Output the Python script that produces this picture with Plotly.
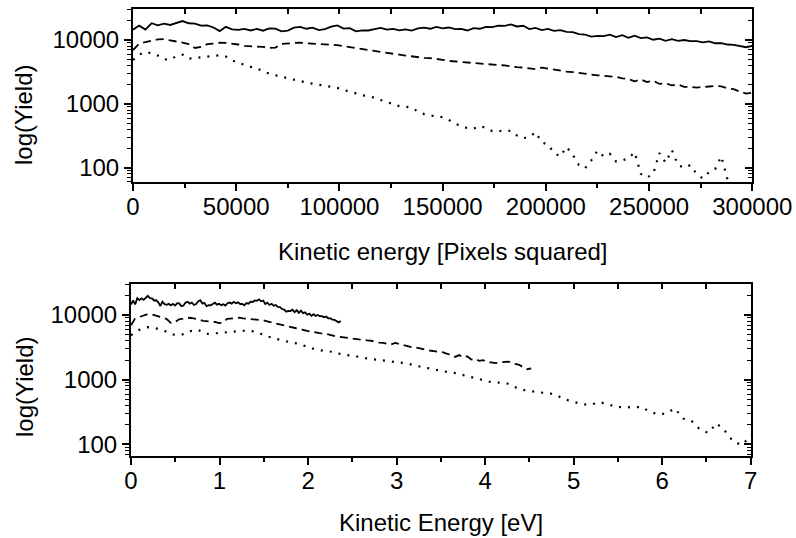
import numpy as np
import plotly.graph_objects as go

# Kinetic energy samples in pixels squared (one every 3000 px^2)
px2 = np.arange(0, 300001, 3000)

yield_solid = [
    14500, 16800, 14600, 18300, 17000, 18100, 17200, 18500, 19800, 18300,
    18100, 16800, 16900, 15700, 13800, 16100, 14700, 14400, 14900, 14100,
    14900, 14000, 15200, 15100, 13700, 14000, 15600, 16000, 15000, 15600,
    14300, 14800, 16200, 16900, 15100, 15300, 13700, 14200, 14100, 14800,
    15500, 14500, 14900, 14200, 14700, 14000, 15200, 15600, 15000, 16000,
    15200, 15700, 14800, 14900, 14100, 15300, 15000, 16100, 15900, 16800,
    16600, 17500, 16300, 16700, 14800, 15500, 14300, 14900, 13900, 14300,
    13400, 13300, 12400, 12100, 11300, 11600, 11500, 12100, 11100, 11900,
    10800, 11700, 10700, 11000, 10100, 10500, 9700, 10300, 9700, 10000,
    9600, 9600, 9200, 9500, 8900, 8900, 8500, 8400, 8000, 7700, 8100,
]

yield_dashed = [
    6950, 8800, 9300, 9800, 10200, 10300, 9900, 9600, 9100, 8600,
    7500, 7800, 8600, 8800, 9100, 9000, 8800, 8500, 8100, 8000,
    7900, 7800, 7500, 7600, 8700, 8900, 9100, 9100, 8900, 8800,
    8700, 8550, 8600, 8300, 8000, 7700, 7400, 7300, 7000, 6700,
    6500, 6300, 6150, 5900, 5700, 5500, 5400, 5250, 5200, 5100,
    4900, 4700, 4600, 4500, 4400, 4300, 4250, 4150, 4100, 4050,
    4000, 3850, 3750, 3700, 3600, 3500, 3700, 3550, 3400, 3300,
    3200, 3150, 3050, 2950, 2850, 2800, 2750, 2700, 2650, 2500,
    2450, 2250, 2400, 2200, 2300, 2050, 2100, 1950, 2000, 1850,
    1850, 1800, 1850, 1870, 1900, 1880, 1750, 1700, 1550, 1450, 1500,
]

yield_dotted = [
    4860, 5900, 6500, 6200, 5700, 5000, 4900, 5600, 5900, 5100,
    5200, 5400, 5500, 5650, 5750, 5500, 4800, 4400, 4060, 3800,
    3600, 3300, 2950, 2800, 2700, 2500, 2400, 2280, 2150, 2070,
    2030, 1950, 1860, 1780, 1650, 1570, 1460, 1370, 1300, 1250,
    1150, 1070, 1000, 920, 900, 870, 760, 690, 660, 630,
    620, 560, 490, 450, 415, 410, 450, 420, 375, 380,
    370, 380, 320, 290, 300, 360, 250, 230, 170, 150,
    212, 160, 110, 98, 130, 185, 150, 165, 125, 130,
    140, 175, 80, 70, 80, 170, 120, 190, 110, 100,
    110, 80, 68, 85, 95, 150, 65, 45, 40, 38, 35,
]

# Energy calibration of each series (eV per pixel squared)
cal_solid = 7.9e-6
cal_dashed = 1.507e-5
cal_dotted = 3.15e-5

x_px_ticks = [0, 50000, 100000, 150000, 200000, 250000, 300000]
x_px_labels = ["0", "50000", "100000", "150000", "200000", "250000", "300000"]
x_px_minor = [25000, 75000, 125000, 175000, 225000, 275000]
x_ev_ticks = [0, 1, 2, 3, 4, 5, 6, 7]
x_ev_labels = ["0", "1", "2", "3", "4", "5", "6", "7"]
x_ev_minor = [0.5, 1.5, 2.5, 3.5, 4.5, 5.5, 6.5]
y_ticks = [100, 1000, 10000]
y_labels = ["100", "1000", "10000"]
y_minor = [60, 70, 80, 90, 200, 300, 400, 500, 600, 700, 800, 900,
           2000, 3000, 4000, 5000, 6000, 7000, 8000, 9000, 20000, 30000]

W, H = 796, 538
FONT = "Liberation Sans, Arial, Helvetica, sans-serif"
tick_font = dict(family=FONT, size=24, color="black")

styles = {
    "solid": dict(color="black", width=1.8, dash="solid"),
    "dashed": dict(color="black", width=1.8, dash="8px,5px"),
    "dotted": dict(color="black", width=2.2, dash="2px,7px"),
}

series = [
    ("solid", yield_solid, cal_solid),
    ("dashed", yield_dashed, cal_dashed),
    ("dotted", yield_dotted, cal_dotted),
]

fig = go.Figure()
for name, ys, cal in series:
    fig.add_trace(go.Scatter(x=px2, y=ys, mode="lines", line=styles[name],
                             xaxis="x", yaxis="y", name=name, hoverinfo="skip"))
    fig.add_trace(go.Scatter(x=px2 * cal, y=ys, mode="lines", line=styles[name],
                             xaxis="x2", yaxis="y2", name=name, hoverinfo="skip"))

# empty traces that carry the mirrored (inward-tick) axes
fig.add_trace(go.Scatter(x=[], y=[], xaxis="x3", yaxis="y3", showlegend=False))
fig.add_trace(go.Scatter(x=[], y=[], xaxis="x4", yaxis="y4", showlegend=False))


def px_x(v):
    return v / W


def px_y(v):
    return 1 - v / H


top_x_dom = [px_x(133), px_x(752.3)]
top_y_dom = [px_y(182.3), px_y(9.3)]
bot_x_dom = [px_x(131), px_x(750.7)]
bot_y_dom = [px_y(456), px_y(284)]
top_y_rng = [1.771, 4.481]
bot_y_rng = [1.819, 4.48]


def base_x(domain, anchor, rng, vals, labels, minor_vals):
    return dict(domain=domain, anchor=anchor, range=rng, automargin=False,
                showgrid=False, zeroline=False,
                showline=True, linecolor="black", linewidth=2, mirror=True,
                ticks="outside", ticklen=7, tickwidth=1.5, tickcolor="black",
                tickmode="array", tickvals=vals, ticktext=labels, tickfont=tick_font,
                ticklabelstandoff=-5,
                minor=dict(tickmode="array", tickvals=minor_vals, ticks="outside",
                           ticklen=4, tickwidth=1.5, tickcolor="black", showgrid=False))


def base_y(domain, anchor, rng):
    return dict(domain=domain, anchor=anchor, type="log", range=rng, automargin=False,
                showgrid=False, zeroline=False, showline=True, linecolor="black",
                linewidth=2, mirror=True,
                ticks="outside", ticklen=7, tickwidth=1.5, tickcolor="black",
                tickmode="array", tickvals=y_ticks, ticktext=y_labels, tickfont=tick_font,
                ticklabelstandoff=0,
                minor=dict(tickmode="array", tickvals=y_minor, ticks="outside",
                           ticklen=4, tickwidth=1.2, tickcolor="black", showgrid=False))


def mirror_x(over, anchor, rng, vals):
    return dict(overlaying=over, anchor=anchor, side="top", range=rng, automargin=False,
                showgrid=False, zeroline=False, showline=False, ticks="inside", ticklen=5,
                tickwidth=1.5, tickcolor="black", tickmode="array", tickvals=vals,
                showticklabels=False)


def mirror_y(over, anchor, rng):
    return dict(overlaying=over, anchor=anchor, side="right", type="log", range=rng,
                automargin=False, showgrid=False, zeroline=False, showline=False,
                ticks="inside", ticklen=7, tickwidth=1.5, tickcolor="black",
                tickmode="array", tickvals=y_ticks, showticklabels=False,
                minor=dict(tickmode="array", tickvals=y_minor, ticks="inside",
                           ticklen=4, tickwidth=1.2, tickcolor="black", showgrid=False))


fig.update_layout(
    width=W, height=H, margin=dict(l=0, r=0, t=0, b=0, autoexpand=False),
    paper_bgcolor="white", plot_bgcolor="white", showlegend=False,
    xaxis=base_x(top_x_dom, "y", [0, 300000], x_px_ticks, x_px_labels, x_px_minor),
    yaxis=base_y(top_y_dom, "x", top_y_rng),
    xaxis2=base_x(bot_x_dom, "y2", [0, 7], x_ev_ticks, x_ev_labels, x_ev_minor),
    yaxis2=base_y(bot_y_dom, "x2", bot_y_rng),
    xaxis3=mirror_x("x", "y3", [0, 300000], sorted(x_px_ticks + x_px_minor)),
    yaxis3=mirror_y("y", "x3", top_y_rng),
    xaxis4=mirror_x("x2", "y4", [0, 7], sorted(x_ev_ticks + x_ev_minor)),
    yaxis4=mirror_y("y2", "x4", bot_y_rng),
)

title_font = dict(family=FONT, size=24, color="black")
annotations = [
    dict(text="Kinetic energy [Pixels squared]", x=px_x(442.6), y=px_y(251)),
    dict(text="Kinetic Energy [eV]", x=px_x(441), y=px_y(522)),
    dict(text="log(Yield)", x=px_x(24), y=px_y(115), textangle=-90),
    dict(text="log(Yield)", x=px_x(24), y=px_y(387), textangle=-90),
]
for a in annotations:
    fig.add_annotation(xref="paper", yref="paper", showarrow=False, font=title_font,
                       xanchor="center", yanchor="middle", **a)

fig.write_html("out.html")
